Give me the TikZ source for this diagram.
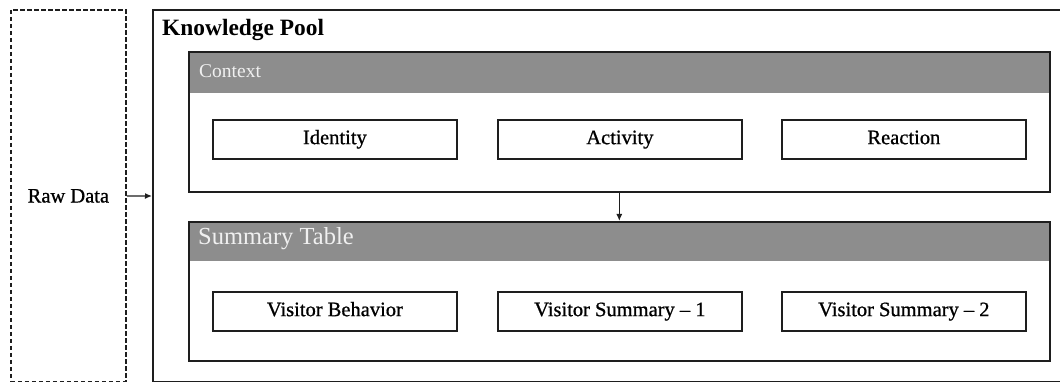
\documentclass[tikz,border=0pt]{standalone}
\usepackage{fontspec}
\setmainfont{Liberation Serif}
\newfontfamily\heavyserif[FakeBold=0.8,Ligatures=TeX]{Liberation Serif}
\usetikzlibrary{arrows.meta}
\definecolor{headgray}{RGB}{141,141,141}
\definecolor{headtext}{RGB}{240,240,240}
\definecolor{linegray}{RGB}{30,30,30}
\tikzset{
  rawbox/.style={draw=linegray, line width=1.8pt, dash pattern=on 4.5pt off 2.5pt,
    minimum width=115pt, minimum height=372pt, inner sep=0pt, anchor=north west,
    font=\heavyserif\fontsize{20.5}{24}\selectfont},
  poolbox/.style={draw=linegray, line width=2pt, minimum width=930pt,
    minimum height=372pt, inner sep=0pt, anchor=north west},
  panel/.style={draw=linegray, line width=1.6pt, fill=white, minimum width=861pt,
    inner sep=0pt, anchor=north west,
    path picture={\fill[headgray] (path picture bounding box.north west)
      rectangle ([yshift=-#1]path picture bounding box.north east);}},
  itembox/.style={draw=linegray, line width=1.8pt, fill=white, minimum width=244pt,
    minimum height=39pt, inner sep=0pt, text height=14pt, text depth=4.5pt,
    anchor=north west, font=\heavyserif\fontsize{20.5}{24}\selectfont},
  headlabel/.style={text=headtext, inner sep=0pt, anchor=west},
  flow/.style={draw=linegray, line width=1.3pt, -{Latex[length=7pt,width=6pt]}}
}
\begin{document}
\begin{tikzpicture}[x=1pt,y=-1pt]
\useasboundingbox (0,0) rectangle (1060,382);
\clip (0,0) rectangle (1060,382);
\fill[white] (0,0) rectangle (1060,382);

% input box
\node[rawbox] (raw) at (10,9) {Raw Data};

% outer knowledge pool frame (runs past the right edge)
\node[poolbox] (pool) at (152,9) {};
\node[inner sep=0pt, anchor=base west, font=\fontsize{23.4}{26}\selectfont\bfseries]
  (pooltitle) at (162,36) {Knowledge Pool};

% context panel
\node[panel=41pt, minimum height=140pt] (ctx) at (188,51) {};
\node[headlabel, font=\fontsize{19.5}{22}\selectfont] (ctxtitle) at (199,71) {Context};
\node[itembox] (identity) at (212,119) {Identity};
\node[itembox] (activity) at (497,119) {Activity};
\node[itembox] (reaction) at (781,119) {Reaction};

% summary table panel
\node[panel=39pt, minimum height=139pt] (sum) at (188,221) {};
\node[headlabel, font=\fontsize{24.5}{28}\selectfont] (sumtitle) at (198,239) {Summary Table};
\node[itembox] (behavior) at (212,291) {Visitor Behavior};
\node[itembox] (summ1) at (497,291) {Visitor Summary -- 1};
\node[itembox] (summ2) at (781,291) {Visitor Summary -- 2};

% connectors
\draw[flow] (raw.east) -- (pool.west);
\draw[flow] (ctx.south) -- (sum.north);
\end{tikzpicture}
\end{document}
